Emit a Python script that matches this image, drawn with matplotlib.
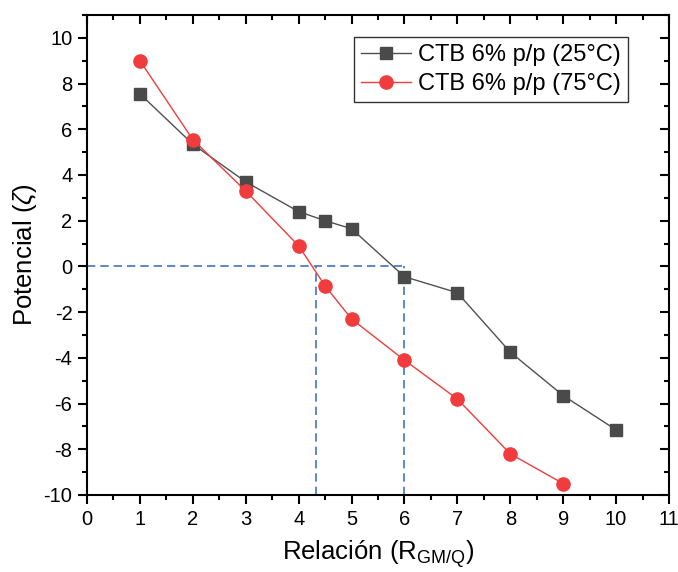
import matplotlib
matplotlib.use("Agg")
import matplotlib.pyplot as plt
from matplotlib.ticker import MultipleLocator

plt.rcParams['font.family'] = ['Liberation Sans', 'DejaVu Sans']
plt.rcParams['mathtext.fontset'] = 'custom'
plt.rcParams['mathtext.rm'] = 'Liberation Sans'
plt.rcParams['mathtext.it'] = 'Liberation Sans:italic'

x25 = [1, 2, 3, 4, 4.5, 5, 6, 7, 8, 9, 10]
y25 = [7.55, 5.35, 3.7, 2.4, 2.0, 1.65, -0.45, -1.15, -3.75, -5.65, -7.15]
x75 = [1, 2, 3, 4, 4.5, 5, 6, 7, 8, 9]
y75 = [9.0, 5.55, 3.3, 0.9, -0.85, -2.3, -4.1, -5.8, -8.2, -9.5]
label25 = 'CTB 6% p/p (25°C)'
label75 = 'CTB 6% p/p (75°C)'
xcross = [4.32, 6]

fig = plt.figure(figsize=(6.78, 5.72), dpi=100)
ax = fig.add_axes([87/678, 77/572, (669-87)/678, (495-15)/572])

ax.plot(x25, y25, color='#505050', lw=1.0, marker='s', ms=8.5,
        mfc='#4a4a4a', mec='#4a4a4a', label=label25, zorder=3)
ax.plot(x75, y75, color='#f03c3c', lw=1.0, marker='o', ms=9.5,
        mfc='#f03c3c', mec='#f03c3c', label=label75, zorder=3)

dash = dict(color='#4472c4', lw=1.2, ls=(0, (5, 3)), zorder=2)
ax.plot([0, xcross[1]], [0, 0], **dash)
for xc in xcross:
    ax.plot([xc, xc], [-10, 0], **dash)

ax.set_xlim(0, 11)
ax.set_ylim(-10, 11)
ax.xaxis.set_major_locator(MultipleLocator(1))
ax.xaxis.set_minor_locator(MultipleLocator(0.5))
ax.set_yticks(range(-10, 11, 2))
ax.set_yticklabels([str(v) for v in range(-10, 11, 2)])
ax.yaxis.set_minor_locator(MultipleLocator(1))
ax.tick_params(which='both', labelsize=14.5, width=1.5, color='black', pad=4)
ax.tick_params(which='major', length=6.5)
ax.tick_params(which='minor', length=3.5)
ax.tick_params(which='both', top=True, right=True, labeltop=False, labelright=False)
for tick in ax.xaxis.get_major_ticks() + ax.xaxis.get_minor_ticks():
    tick.tick2line.set_marker(3)
for tick in ax.yaxis.get_major_ticks() + ax.yaxis.get_minor_ticks():
    tick.tick2line.set_marker(0)
for s in ax.spines.values():
    s.set_linewidth(1.5)

ax.set_xlabel(r'Relación (R$_{\mathrm{GM/Q}}$)', fontsize=18.5, labelpad=7)
ax.set_ylabel(r'Potencial ($\zeta$)', fontsize=18.5, labelpad=3)

leg = ax.legend(loc='upper right', bbox_to_anchor=((628-87)/582, (495-37)/480),
                borderaxespad=0, fontsize=17,
                frameon=True, fancybox=False, edgecolor='black',
                handlelength=2.1, borderpad=0.3, labelspacing=0.3,
                handletextpad=0.3)
leg.get_frame().set_linewidth(1.0)

fig.savefig('out.png', dpi=100)
